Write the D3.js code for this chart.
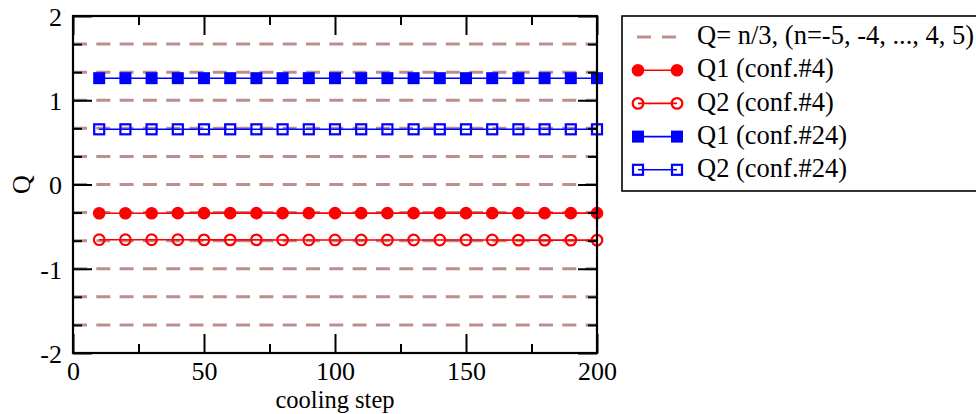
<!DOCTYPE html>
<html>
<head>
<meta charset="utf-8">
<script src="https://cdn.jsdelivr.net/npm/d3@7"></script>
<style>
  body { margin: 0; background: #fff; }
</style>
</head>
<body>
<div class="chart"></div>
<script>
/*
----------------------------------------------------------
                   data
----------------------------------------------------------
*/
var steps = [10, 20, 30, 40, 50, 60, 70, 80, 90, 100,
             110, 120, 130, 140, 150, 160, 170, 180, 190, 200];

var q1Conf4  = [-0.342, -0.341, -0.341, -0.340, -0.340, -0.340, -0.340, -0.340, -0.340, -0.340,
                -0.340, -0.340, -0.340, -0.340, -0.340, -0.340, -0.340, -0.340, -0.340, -0.340];
var q2Conf4  = [-0.655, -0.655, -0.656, -0.656, -0.657, -0.657, -0.657, -0.658, -0.658, -0.658,
                -0.658, -0.659, -0.659, -0.659, -0.659, -0.659, -0.660, -0.660, -0.660, -0.660];
var q1Conf24 = [1.262, 1.262, 1.262, 1.262, 1.262, 1.262, 1.262, 1.262, 1.262, 1.262,
                1.262, 1.262, 1.262, 1.262, 1.262, 1.262, 1.262, 1.262, 1.262, 1.262];
var q2Conf24 = [0.655, 0.655, 0.655, 0.655, 0.655, 0.655, 0.655, 0.655, 0.655, 0.655,
                0.655, 0.655, 0.655, 0.655, 0.655, 0.655, 0.655, 0.655, 0.655, 0.655];

// reference levels Q = n/3
var refN = [-5, -4, -3, -2, -1, 0, 1, 2, 3, 4, 5];

var xMajor = [0, 50, 100, 150, 200];
var xMinor = [25, 75, 125, 175];
var yMajor = [-2, -1, 0, 1, 2];
var yMinor = [-5/3, -4/3, -2/3, -1/3, 1/3, 2/3, 4/3, 5/3];

var legendLabels = [
    "Q= n/3, (n=-5, -4, ..., 4, 5)",
    "Q1 (conf.#4)",
    "Q2 (conf.#4)",
    "Q1 (conf.#24)",
    "Q2 (conf.#24)"
];

/*
----------------------------------------------------------
                   setup
----------------------------------------------------------
*/
var width = 976, height = 414;
var red = "#ff0000", blue = "#0000ff", rosy = "#bc8f8f";
var serif = "Liberation Serif";

var svg = d3.select(".chart").append("svg")
    .attr("width", width)
    .attr("height", height);

var x = d3.scaleLinear().domain([0, 200]).range([73, 597]);
var y = d3.scaleLinear().domain([-2, 2]).range([353, 16]);

var series = [
    {values: q1Conf4,  color: red,  shape: "circle", filled: true},
    {values: q2Conf4,  color: red,  shape: "circle", filled: false},
    {values: q1Conf24, color: blue, shape: "square", filled: true},
    {values: q2Conf24, color: blue, shape: "square", filled: false}
];

function drawMarker(g, shape, filled, color, cx, cy) {
    if(shape == "circle") {
        g.append("circle")
            .attr("cx", cx).attr("cy", cy)
            .attr("r", filled ? 6.3 : 5.3)
            .attr("fill", filled ? color : "none")
            .attr("stroke", filled ? "none" : color)
            .attr("stroke-width", 2.2);
    } else {
        var s = filled ? 12 : 10;
        g.append("rect")
            .attr("x", cx - s / 2).attr("y", cy - s / 2)
            .attr("width", s).attr("height", s)
            .attr("fill", filled ? color : "none")
            .attr("stroke", filled ? "none" : color)
            .attr("stroke-width", 2.2);
    }
}

function label(sel, size) {
    sel.attr("font-family", serif)
        .attr("font-size", size)
        .attr("fill", "#000");
}

/*
----------------------------------------------------------
                   reference lines
----------------------------------------------------------
*/
svg.append("g").attr("class", "refs")
    .selectAll("line").data(refN).enter()
    .append("line")
        .attr("x1", x(0)).attr("x2", x(200))
        .attr("y1", function(d) { return y(d / 3); })
        .attr("y2", function(d) { return y(d / 3); })
        .attr("stroke", rosy)
        .attr("stroke-width", 3)
        .attr("stroke-dasharray", "14,9.3");

/*
----------------------------------------------------------
                   series
----------------------------------------------------------
*/
var line = d3.line()
    .x(function(d, i) { return x(steps[i]); })
    .y(function(d) { return y(d); });

series.forEach(function(s) {
    var g = svg.append("g");
    g.append("path")
        .attr("d", line(s.values))
        .attr("fill", "none")
        .attr("stroke", s.color)
        .attr("stroke-width", 1.6);
    s.values.forEach(function(v, i) {
        drawMarker(g, s.shape, s.filled, s.color, x(steps[i]), y(v));
    });
});

/*
----------------------------------------------------------
                   axes
----------------------------------------------------------
*/
function styleAxis(g) {
    g.attr("font-family", serif).attr("font-size", 26);
    g.select(".domain").remove();
    g.selectAll(".tick line").attr("stroke", "#000").attr("stroke-width", 2);
}
var plain = function(d) { return String(d); };

var bottom = svg.append("g").attr("transform", "translate(0," + y(-2) + ")")
    .call(d3.axisBottom(x).tickValues(xMajor).tickSize(-19).tickFormat(plain));
bottom.call(styleAxis);
bottom.selectAll("text").attr("y", 27).attr("dy", null).call(label, 26);

svg.append("g").attr("transform", "translate(0," + y(-2) + ")")
    .call(d3.axisBottom(x).tickValues(xMinor).tickSize(-9).tickFormat(""))
    .call(styleAxis);

svg.append("g").attr("transform", "translate(0," + y(2) + ")")
    .call(d3.axisTop(x).tickValues(xMajor).tickSize(-19).tickFormat(""))
    .call(styleAxis);
svg.append("g").attr("transform", "translate(0," + y(2) + ")")
    .call(d3.axisTop(x).tickValues(xMinor).tickSize(-9).tickFormat(""))
    .call(styleAxis);

var left = svg.append("g").attr("transform", "translate(" + x(0) + ",0)")
    .call(d3.axisLeft(y).tickValues(yMajor).tickSize(-19).tickFormat(plain));
left.call(styleAxis);
left.selectAll("text").attr("x", -11).attr("dy", "0.36em").call(label, 26);

svg.append("g").attr("transform", "translate(" + x(0) + ",0)")
    .call(d3.axisLeft(y).tickValues(yMinor).tickSize(-9).tickFormat(""))
    .call(styleAxis);

svg.append("g").attr("transform", "translate(" + x(200) + ",0)")
    .call(d3.axisRight(y).tickValues(yMajor).tickSize(-19).tickFormat(""))
    .call(styleAxis);
svg.append("g").attr("transform", "translate(" + x(200) + ",0)")
    .call(d3.axisRight(y).tickValues(yMinor).tickSize(-9).tickFormat(""))
    .call(styleAxis);

// frame
svg.append("rect")
    .attr("x", x(0)).attr("y", y(2))
    .attr("width", x(200) - x(0)).attr("height", y(-2) - y(2))
    .attr("fill", "none").attr("stroke", "#000").attr("stroke-width", 2.2);

svg.append("text")
    .attr("x", (x(0) + x(200)) / 2).attr("y", 408)
    .attr("text-anchor", "middle")
    .call(label, 24.5)
    .text("cooling step");

svg.append("text")
    .attr("transform", "translate(30," + y(0) + ") rotate(-90)")
    .attr("text-anchor", "middle")
    .call(label, 26)
    .text("Q");

/*
----------------------------------------------------------
                   legend
----------------------------------------------------------
*/
var legend = svg.append("g").attr("class", "legend");
legend.append("rect")
    .attr("x", 622).attr("y", 16)
    .attr("width", 400).attr("height", 175)
    .attr("fill", "#fff").attr("stroke", "#000").attr("stroke-width", 1.6);

var rowY = function(i) { return 37 + i * 33.2; };

legend.append("line")
    .attr("x1", 637).attr("x2", 676)
    .attr("y1", rowY(0)).attr("y2", rowY(0))
    .attr("stroke", rosy).attr("stroke-width", 3)
    .attr("stroke-dasharray", "14,11");

series.forEach(function(s, i) {
    var g = legend.append("g");
    var ly = rowY(i + 1);
    g.append("line")
        .attr("x1", 638).attr("x2", 677)
        .attr("y1", ly).attr("y2", ly)
        .attr("stroke", s.color).attr("stroke-width", 1.6);
    drawMarker(g, s.shape, s.filled, s.color, 638, ly);
    drawMarker(g, s.shape, s.filled, s.color, 677, ly);
});

legend.selectAll("text").data(legendLabels).enter()
    .append("text")
        .attr("x", 697)
        .attr("y", function(d, i) { return rowY(i); })
        .attr("dy", "0.27em")
        .call(label, 26.5)
        .text(function(d) { return d; });
</script>
</body>
</html>
